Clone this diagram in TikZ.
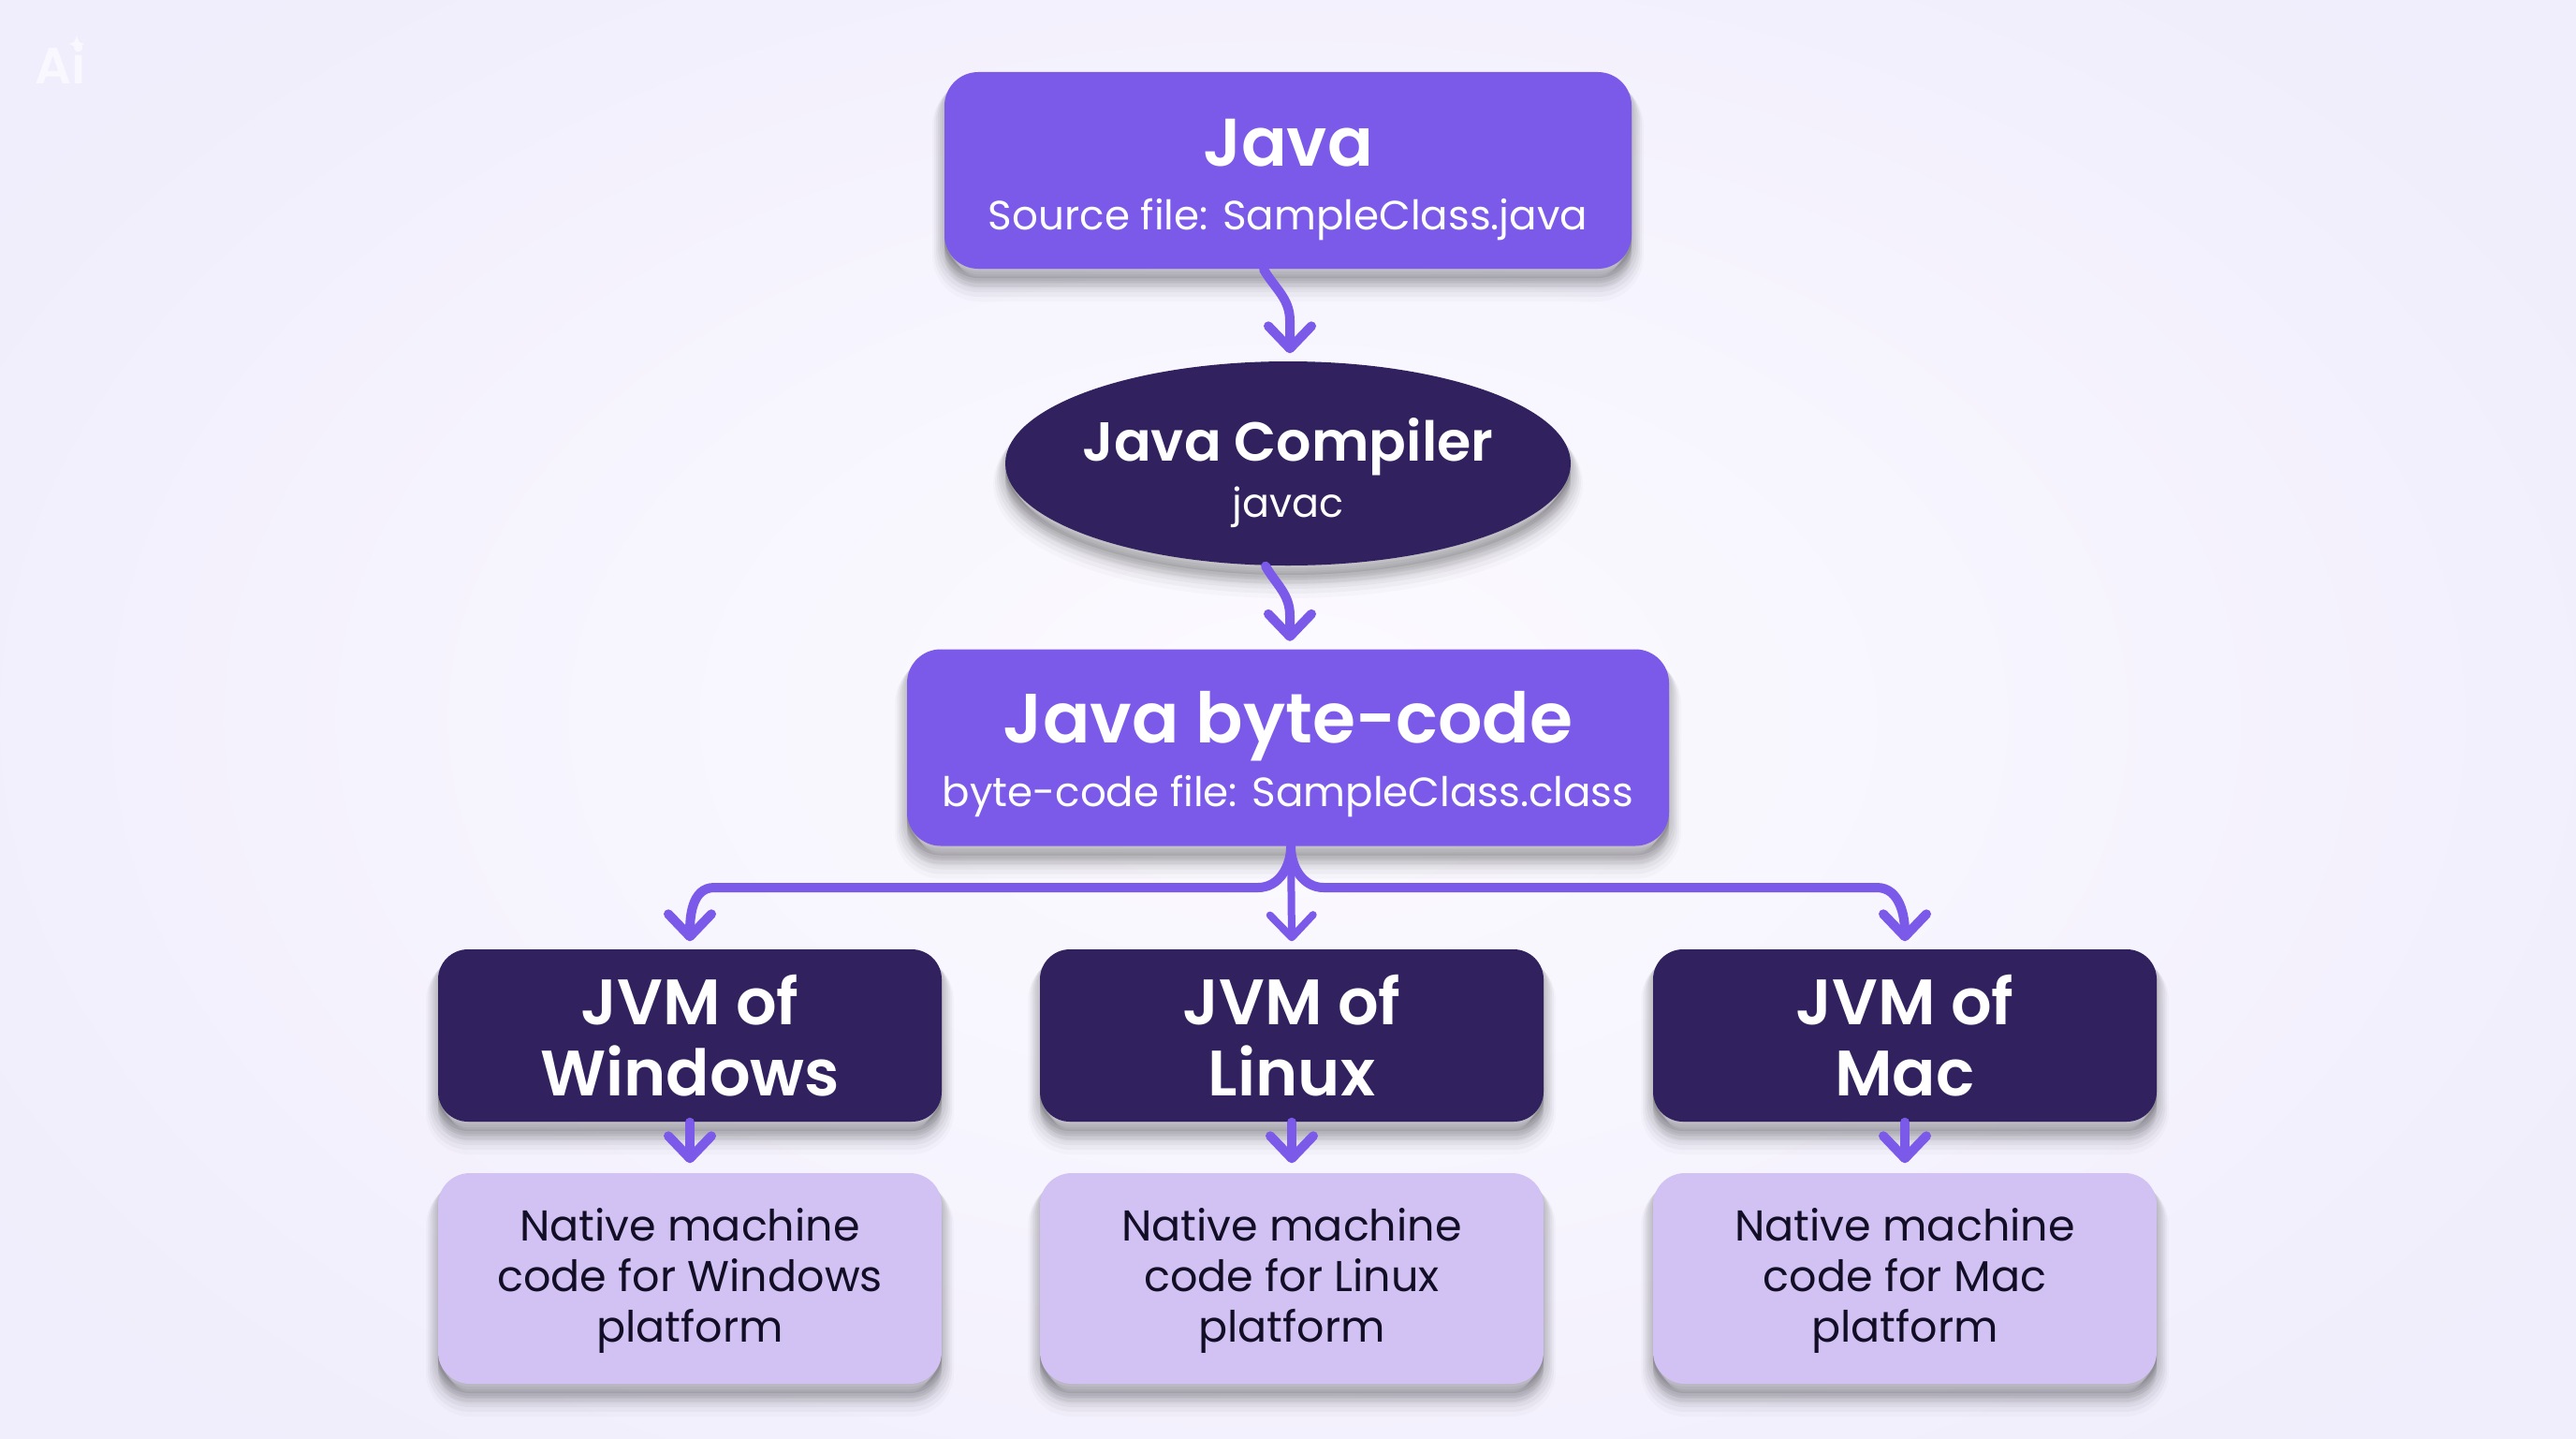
\documentclass[tikz,border=0pt]{standalone}
\usepackage{fontspec}
\setmainfont{Poppins}[BoldFont={Poppins SemiBold}]
\usetikzlibrary{arrows.meta}
\usetikzlibrary{shadows}
\usetikzlibrary{shapes.geometric}
\definecolor{violetfill}{HTML}{7C5AE9}
\definecolor{inkfill}{HTML}{31215F}
\definecolor{lilacfill}{HTML}{D2C1F3}
\definecolor{lilactext}{HTML}{120E26}
\definecolor{bgmid}{HTML}{FCFBFF}
\definecolor{bgedge}{HTML}{F0EDFC}
\tikzset{
	softshadow/.style={
		general shadow={shadow yshift=-.04cm,fill=black,draw=black,line width=.02cm,opacity=.04},
		general shadow={shadow yshift=-.07cm,fill=black,draw=black,line width=.06cm,opacity=.04},
		general shadow={shadow yshift=-.1cm,fill=black,draw=black,line width=.1cm,opacity=.04},
		general shadow={shadow yshift=-.13cm,fill=black,draw=black,line width=.14cm,opacity=.04},
		general shadow={shadow yshift=-.16cm,fill=black,draw=black,line width=.18cm,opacity=.035},
		general shadow={shadow yshift=-.19cm,fill=black,draw=black,line width=.22cm,opacity=.03},
		general shadow={shadow yshift=-.22cm,fill=black,draw=black,line width=.26cm,opacity=.02}},
	violetbox/.style={softshadow,fill=violetfill,text=white,rounded corners=.36cm,align=center,inner sep=0pt},
	inkbox/.style={softshadow,fill=inkfill,text=white,rounded corners=.32cm,align=center,inner sep=0pt,
		minimum width=5.38cm,minimum height=1.84cm,font=\fontsize{19.5}{22}\selectfont\bfseries},
	lilacbox/.style={softshadow,fill=lilacfill,text=lilactext,rounded corners=.34cm,align=center,inner sep=0pt,
		minimum width=5.38cm,minimum height=2.25cm,font=\fontsize{13.1}{15.4}\selectfont},
	flowarrow/.style={draw=violetfill,line width=.1cm,line cap=round,
		-{Straight Barb[length=2.4mm,width=4.6mm,round]}},
}
\begin{document}
\begin{tikzpicture}
	\useasboundingbox (0,0) rectangle (27.52,-15.36);
	\shade[inner color=bgmid,middle color=bgmid,outer color=bgedge] (-3,3) rectangle (30.52,-18.36);
	
	\node[text=white!60!bgedge,font=\fontsize{15.5}{15.5}\selectfont\bfseries,anchor=base west,inner sep=0pt] (badge) at (.37,-.9) {Ai};
	\fill[white!60!bgedge] (.82,-.37) .. controls (.83,-.44) and (.85,-.46) .. (.91,-.47) .. controls (.85,-.48) and (.83,-.5) .. (.82,-.57) .. controls (.81,-.5) and (.79,-.48) .. (.73,-.47) .. controls (.79,-.46) and (.81,-.44) .. cycle;
	
	\node[violetbox,minimum width=7.34cm,minimum height=2.1cm] (java) at (13.76,-1.82)
		{\rule{0pt}{20pt}\fontsize{20.5}{20.5}\selectfont\bfseries Java\\[.25cm]\fontsize{12.4}{12.4}\selectfont Source file: SampleClass.java};
	\node[softshadow,ellipse,fill=inkfill,text=white,align=center,inner xsep=-.5cm,inner ysep=-.3cm,minimum width=6.04cm,minimum height=2.18cm] (compiler) at (13.76,-4.95)
		{\rule{0pt}{19pt}\fontsize{16.7}{16.7}\selectfont\bfseries Java Compiler\\[.08cm]\fontsize{12.2}{12.2}\selectfont javac};
	\node[violetbox,minimum width=8.14cm,minimum height=2.1cm] (bytecode) at (13.76,-7.985)
		{\rule{0pt}{19.7pt}\fontsize{21.2}{21.2}\selectfont\bfseries Java byte-code\\[.11cm]\fontsize{12.4}{12.4}\selectfont byte-code file: SampleClass.class};
	
	\node[inkbox] (jvmwin) at (7.37,-11.06) {JVM of\\[-.015cm]Windows};
	\node[inkbox] (jvmlinux) at (13.8,-11.06) {JVM of\\[-.015cm]Linux};
	\node[inkbox] (jvmmac) at (20.35,-11.06) {JVM of\\[-.015cm]Mac};
	
	\node[lilacbox] (nativewin) at (7.37,-13.655) {\rule{0pt}{11.2pt}Native machine\\code for Windows\\platform};
	\node[lilacbox] (nativelinux) at (13.8,-13.655) {\rule{0pt}{11.2pt}Native machine\\code for Linux\\platform};
	\node[lilacbox] (nativemac) at (20.35,-13.655) {\rule{0pt}{11.2pt}Native machine\\code for Mac\\platform};
	
	\draw[flowarrow] ([xshift=-.26cm]java.south) to[out=-60,in=90] ++(.28,-.55) -- ([xshift=.02cm,yshift=.08cm]compiler.north);
	\draw[flowarrow] ([xshift=-.24cm]compiler.south) to[out=-60,in=90] ++(.26,-.53) -- ([xshift=.02cm,yshift=.08cm]bytecode.north);
	
	\coordinate (fantop) at ([xshift=.03cm]bytecode.south);
	\coordinate (fanbar) at (13.79,-9.48);
	\draw[flowarrow] (fantop) to[out=-90,in=0] ([xshift=-.35cm]fanbar) -- ([xshift=.26cm]jvmwin.north |- fanbar) to[out=180,in=90] ([yshift=.08cm]jvmwin.north);
	\draw[flowarrow] (fantop) to[out=-90,in=180] ([xshift=.35cm]fanbar) -- ([xshift=-.3cm]jvmmac.north |- fanbar) to[out=0,in=90] ([yshift=.08cm]jvmmac.north);
	\draw[flowarrow,line width=.08cm] (fantop) -- ([yshift=.08cm]jvmlinux.north);
	
	\draw[flowarrow] (jvmwin) -- ([yshift=.1cm]nativewin.north);
	\draw[flowarrow] (jvmlinux) -- ([yshift=.1cm]nativelinux.north);
	\draw[flowarrow] (jvmmac) -- ([yshift=.1cm]nativemac.north);
\end{tikzpicture}
\end{document}
